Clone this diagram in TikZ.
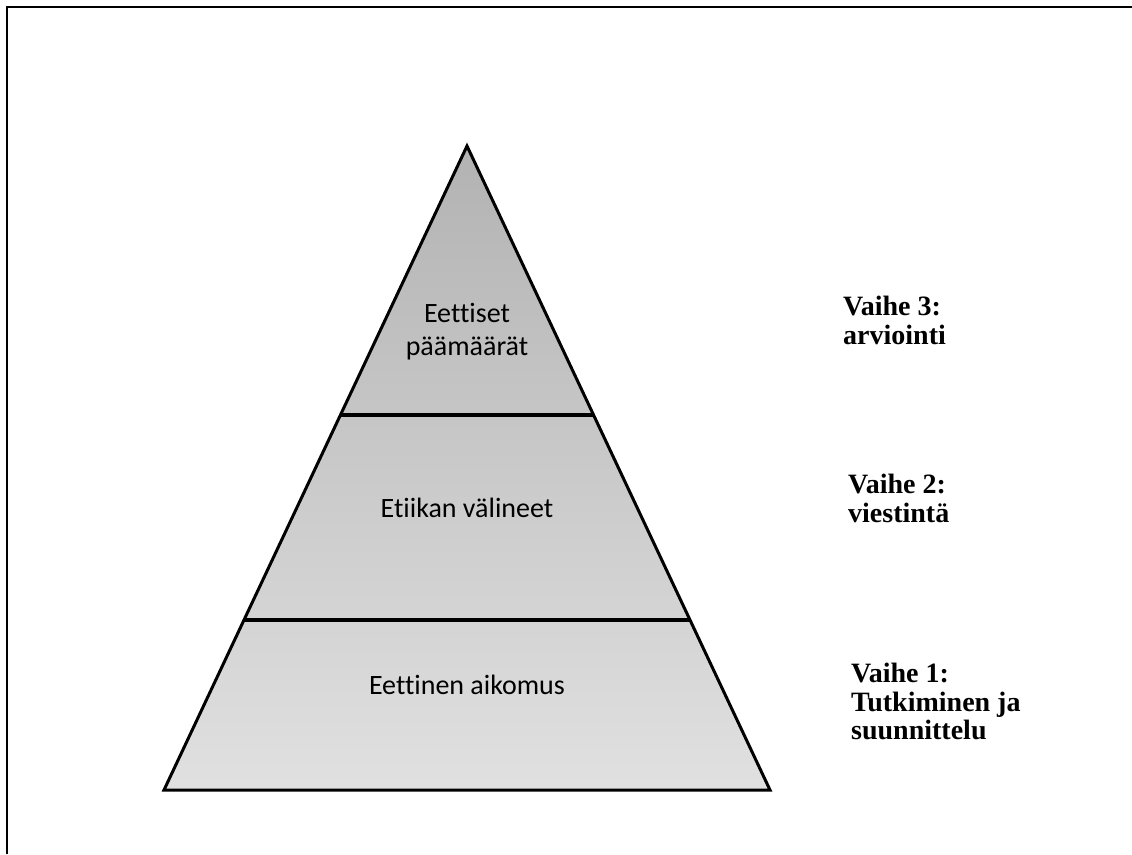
\documentclass[tikz,border=0pt]{standalone}
\usepackage{fontspec}
\setmainfont{Liberation Serif}
\newfontfamily\calibri[Ligatures=NoCommon]{Carlito}
\usetikzlibrary{calc}
\usetikzlibrary{positioning}

\tikzset{
  layertext/.style={font=\calibri\fontsize{28}{33}\selectfont, align=center, inner sep=0pt},
  phasetext/.style={font=\bfseries\fontsize{28}{28.5}\selectfont, align=left, anchor=north west, inner sep=0pt},
  divider/.style={line width=4pt}
}

\begin{document}
\begin{tikzpicture}[x=1pt,y=-1pt]
  \useasboundingbox (0,0) rectangle (1132,854);
  % frame, only top and left edges are visible
  \coordinate (fb) at (7,854);
  \coordinate (fc) at (7,7);
  \coordinate (fr) at (1132,7);
  \draw[line width=2.5pt] (fb) -- (fc) -- (fr);

  % pyramid corners
  \coordinate (apex) at (467,146);
  \coordinate (bl)   at (164,790);
  \coordinate (br)   at (770,790);
  \shade[top color=black!30, bottom color=black!12]
    (apex) -- (bl) -- (br) -- cycle;

  % layer borders
  \coordinate (l1) at ($(apex)!0.4177!(bl)$);
  \coordinate (r1) at ($(apex)!0.4177!(br)$);
  \coordinate (l2) at ($(apex)!0.736!(bl)$);
  \coordinate (r2) at ($(apex)!0.736!(br)$);
  \draw[divider] (l1) -- (r1);
  \draw[divider] (l2) -- (r2);
  \draw[line width=3pt, line join=miter] (apex) -- (bl) -- (br) -- cycle;

  \node[layertext, anchor=north] (top) at (467,303) {Eettiset\\päämäärät};
  \node[layertext, anchor=base] (mid) at (467,517) {Etiikan välineet};
  \node[layertext, anchor=base] (low) at (467,694) {Eettinen aikomus};

  \node[phasetext] (p3) at (843,296) {Vaihe 3:\\arviointi};
  \node[phasetext] (p2) at (848,474) {Vaihe 2:\\viestintä};
  \node[phasetext] (p1) at (851,663) {Vaihe 1:\\Tutkiminen ja\\suunnittelu};
\end{tikzpicture}
\end{document}
